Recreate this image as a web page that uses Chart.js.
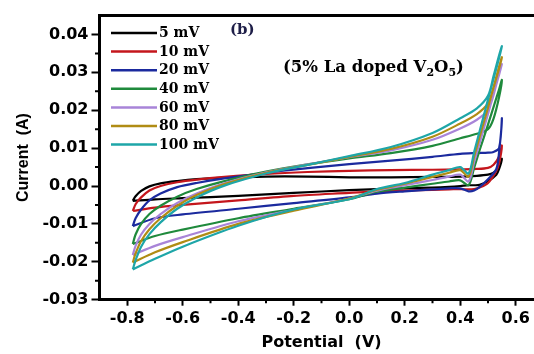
<!DOCTYPE html>
<html>
<head>
<meta charset="utf-8">
<script src="https://cdn.jsdelivr.net/npm/chart.js@4/dist/chart.umd.min.js"></script>
<style>
  html, body { margin: 0; padding: 0; background: #fff; overflow: hidden; }
  canvas { display: block; }
</style>
</head>
<body>
<canvas id="cv" width="548" height="354"></canvas>
<script>
// Scan rates and their colours
const scanLabels = ["5 mV", "10 mV", "20 mV", "40 mV", "60 mV", "80 mV", "100 mV"];
const scanColors = ["#000000", "#c4161c", "#1b2a9e", "#1f8a3c", "#a884d8", "#b08c14", "#1ea6a8"];

// Axis ticks
const xTicks = [-0.8, -0.6, -0.4, -0.2, 0.0, 0.2, 0.4, 0.6];
const xMinorTicks = [-0.7, -0.5, -0.3, -0.1, 0.1, 0.3, 0.5];
const yTicks = [-0.03, -0.02, -0.01, 0.0, 0.01, 0.02, 0.03, 0.04];
const yMinorTicks = [-0.025, -0.015, -0.005, 0.005, 0.015, 0.025, 0.035];

// Potential (V) of the anodic sweep (left -> right)
const fwdV = [-0.78, -0.77, -0.75, -0.72, -0.68, -0.62, -0.55, -0.45, -0.3, -0.15, 0, 0.15, 0.3, 0.4, 0.46, 0.5, 0.52, 0.54, 0.55];
// Current (A) on the anodic sweep
const fwd5   = [-0.0039, -0.0027, -0.0013, -0.0001, 0.0007, 0.0013, 0.0018, 0.0022, 0.0025, 0.0025, 0.0023, 0.0023, 0.0024, 0.0025, 0.0027, 0.0030, 0.0035, 0.0048, 0.0072];
const fwd10  = [-0.0066, -0.0048, -0.0030, -0.0012, 0.0000, 0.0010, 0.0017, 0.0024, 0.0032, 0.0037, 0.0040, 0.0042, 0.0043, 0.0044, 0.0045, 0.0048, 0.0056, 0.0078, 0.0107];
const fwd20  = [-0.0106, -0.0085, -0.0062, -0.0038, -0.0020, -0.0003, 0.0008, 0.0020, 0.0035, 0.0047, 0.0058, 0.0067, 0.0077, 0.0085, 0.0087, 0.0088, 0.0090, 0.0100, 0.0179];
const fwd40  = [-0.0153, -0.0128, -0.0100, -0.0074, -0.0052, -0.0028, -0.0008, 0.0013, 0.0038, 0.0057, 0.0073, 0.0087, 0.0106, 0.0126, 0.0138, 0.0150, 0.0178, 0.0235, 0.0280];
const fwd60  = [-0.0182, -0.0158, -0.0128, -0.0100, -0.0074, -0.0045, -0.0020, 0.0007, 0.0036, 0.0057, 0.0076, 0.0094, 0.0122, 0.0152, 0.0175, 0.0200, 0.0240, 0.0298, 0.0322];
const fwd80  = [-0.0202, -0.0178, -0.0145, -0.0114, -0.0085, -0.0052, -0.0024, 0.0005, 0.0035, 0.0056, 0.0077, 0.0098, 0.0130, 0.0165, 0.0190, 0.0218, 0.0262, 0.0315, 0.0340];
const fwd100 = [-0.0220, -0.0196, -0.0160, -0.0127, -0.0096, -0.0060, -0.0030, 0.0001, 0.0033, 0.0056, 0.0079, 0.0103, 0.0140, 0.0179, 0.0205, 0.0238, 0.0290, 0.0345, 0.0369];

// Potential (V) of the cathodic sweep (right -> left)
const revV = [0.55, 0.54, 0.53, 0.5, 0.47, 0.45, 0.43, 0.4, 0.36, 0.3, 0.2, 0.1, 0, -0.2, -0.4, -0.6, -0.7, -0.78];
// Current (A) on the cathodic sweep
const rev5   = [0.0072, 0.0045, 0.0030, 0.0013, 0.0003, 0.0002, 0.0002, 0.0000, -0.0002, -0.0004, -0.0006, -0.0008, -0.0011, -0.0018, -0.0026, -0.0032, -0.0035, -0.0039];
const rev10  = [0.0107, 0.0060, 0.0040, 0.0008, -0.0004, -0.0008, -0.0009, -0.0008, -0.0009, -0.0010, -0.0012, -0.0014, -0.0018, -0.0026, -0.0038, -0.0050, -0.0057, -0.0066];
const rev20  = [0.0179, 0.0090, 0.0045, 0.0018, -0.0002, -0.0012, -0.0014, -0.0006, -0.0006, -0.0009, -0.0014, -0.0020, -0.0030, -0.0045, -0.0060, -0.0075, -0.0085, -0.0106];
const rev40  = [0.0280, 0.0255, 0.0232, 0.0162, 0.0095, 0.0048, 0.0002, 0.0015, 0.0012, 0.0006, -0.0004, -0.0015, -0.0035, -0.0060, -0.0085, -0.0115, -0.0132, -0.0153];
const rev60  = [0.0322, 0.0294, 0.0268, 0.0190, 0.0114, 0.0063, 0.0012, 0.0030, 0.0025, 0.0016, 0.0002, -0.0012, -0.0033, -0.0063, -0.0093, -0.0135, -0.0158, -0.0182];
const rev80  = [0.0340, 0.0310, 0.0285, 0.0207, 0.0130, 0.0078, 0.0025, 0.0042, 0.0035, 0.0024, 0.0006, -0.0010, -0.0033, -0.0065, -0.0100, -0.0148, -0.0175, -0.0202];
const rev100 = [0.0369, 0.0338, 0.0310, 0.0228, 0.0145, 0.0090, 0.0033, 0.0050, 0.0042, 0.0030, 0.0008, -0.0008, -0.0035, -0.0062, -0.0105, -0.0160, -0.0192, -0.0220];

const fwdCurrents = [fwd5, fwd10, fwd20, fwd40, fwd60, fwd80, fwd100];
const revCurrents = [rev5, rev10, rev20, rev40, rev60, rev80, rev100];

const sansBold = { family: '"DejaVu Sans"', size: 16, weight: "bold" };

// one closed loop per scan rate: anodic sweep, then cathodic sweep back
const datasets = scanLabels.map((label, i) => {
  const fwd = fwdV.map((v, k) => ({ x: v, y: fwdCurrents[i][k] }));
  const rev = revV.slice(1).map((v, k) => ({ x: v, y: revCurrents[i][k + 1] }));
  return {
    label: label,
    data: fwd.concat(rev),
    borderColor: scanColors[i],
    backgroundColor: scanColors[i],
    borderWidth: 2.2,
    pointRadius: 0,
    showLine: true,
    fill: false,
    tension: 0.3,
    order: scanLabels.length - 1 - i
  };
});

// top frame line, minor ticks, legend and captions
const decorPlugin = {
  id: "decor",
  afterDraw(chart) {
    const { ctx, chartArea } = chart;
    const xs = chart.scales.x;
    const ys = chart.scales.y;
    ctx.save();

    // frame
    ctx.strokeStyle = "#000";
    ctx.lineWidth = 3;
    ctx.beginPath();
    ctx.moveTo(chartArea.left - 1.5, chartArea.top);
    ctx.lineTo(chartArea.right, chartArea.top);
    ctx.lineTo(chartArea.right, chartArea.bottom);
    ctx.stroke();

    // minor ticks
    ctx.lineWidth = 2;
    ctx.beginPath();
    xMinorTicks.forEach((v) => {
      const px = xs.getPixelForValue(v);
      ctx.moveTo(px, chartArea.bottom);
      ctx.lineTo(px, chartArea.bottom + 3.5);
    });
    yMinorTicks.forEach((v) => {
      const py = ys.getPixelForValue(v);
      ctx.moveTo(chartArea.left, py);
      ctx.lineTo(chartArea.left - 4.5, py);
    });
    ctx.stroke();

    // legend
    ctx.font = 'bold 14px "DejaVu Serif"';
    ctx.textBaseline = "middle";
    chart.data.datasets.forEach((ds, i) => {
      const y = 33 + i * 18.6;
      ctx.strokeStyle = ds.borderColor;
      ctx.lineWidth = 2.5;
      ctx.beginPath();
      ctx.moveTo(111, y);
      ctx.lineTo(157, y);
      ctx.stroke();
      ctx.fillStyle = "#000";
      ctx.fillText(ds.label, 159, y + 0.5);
    });

    // panel letter
    ctx.fillStyle = "#1e1e48";
    ctx.font = 'bold 15px "DejaVu Serif"';
    ctx.fillText("(b)", 230, 30);

    // sample caption with subscripts
    ctx.fillStyle = "#000";
    const parts = [["(5% La doped V", false], ["2", true], ["O", false], ["5", true], [")", false]];
    let x = 283;
    parts.forEach(([t, sub]) => {
      ctx.font = sub ? 'bold 11px "DejaVu Serif"' : 'bold 16.5px "DejaVu Serif"';
      ctx.fillText(t, x, sub ? 73 : 68);
      x += ctx.measureText(t).width;
    });

    ctx.restore();
  }
};

new Chart(document.getElementById("cv"), {
  type: "scatter",
  data: { datasets: datasets },
  options: {
    responsive: false,
    devicePixelRatio: 1,
    animation: false,
    layout: { padding: { top: 15.5, right: 4.5, left: 0, bottom: 0 } },
    plugins: {
      legend: { display: false },
      tooltip: { enabled: false }
    },
    scales: {
      x: {
        type: "linear",
        min: -0.9,
        max: 0.7,
        afterBuildTicks: (s) => { s.ticks = xTicks.map((v) => ({ value: v })); },
        afterFit: (s) => { s.height = 54.3; },
        border: { display: true, width: 3, color: "#000" },
        grid: { drawOnChartArea: false, drawTicks: true, tickLength: 6, tickWidth: 2, tickColor: "#000", color: "#000" },
        ticks: {
          color: "#000",
          padding: 4,
          font: sansBold,
          maxRotation: 0,
          autoSkip: false,
          callback: (v) => Number(v).toFixed(1)
        },
        title: {
          display: true,
          text: "Potential  (V)",
          color: "#000",
          font: sansBold,
          padding: { top: 0, bottom: 1.5 }
        }
      },
      y: {
        type: "linear",
        min: -0.03,
        max: 0.045,
        afterBuildTicks: (s) => { s.ticks = yTicks.map((v) => ({ value: v })); },
        afterFit: (s) => { s.width = 99.5; },
        border: { display: true, width: 3, color: "#000" },
        grid: { drawOnChartArea: false, drawTicks: true, tickLength: 8, tickWidth: 2, tickColor: "#000", color: "#000" },
        ticks: {
          color: "#000",
          padding: 3,
          font: sansBold,
          autoSkip: false,
          callback: (v) => Number(v).toFixed(2)
        },
        title: {
          display: true,
          text: "Current  (A)",
          color: "#000",
          font: { family: '"Liberation Sans"', size: 16, weight: "bold" },
          padding: { top: 14, bottom: 0 }
        }
      }
    }
  },
  plugins: [decorPlugin]
});
</script>
</body>
</html>
